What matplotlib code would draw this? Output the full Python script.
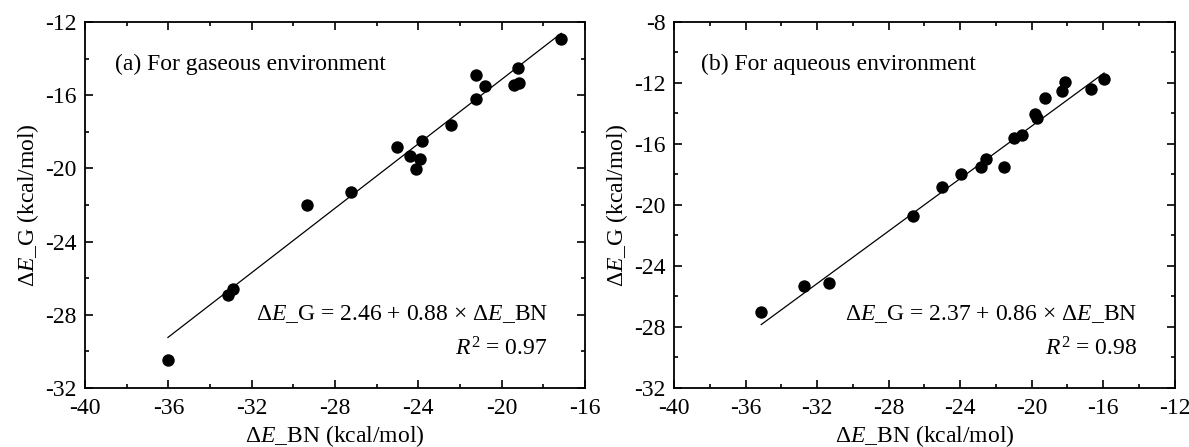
import matplotlib
matplotlib.use("Agg")
import matplotlib.pyplot as plt
import numpy as np
from matplotlib.ticker import MultipleLocator

plt.rcParams['font.family'] = ['Liberation Serif', 'DejaVu Serif']
plt.rcParams['mathtext.fontset'] = 'custom'
plt.rcParams['mathtext.rm'] = 'Liberation Serif'
plt.rcParams['mathtext.it'] = 'Liberation Serif:italic'
plt.rcParams['mathtext.bf'] = 'Liberation Serif:bold'
plt.rcParams['axes.unicode_minus'] = False

# Panel (a): gaseous environment
gas_bn = [-17.14, -21.23, -19.21, -20.81, -19.43, -19.19, -21.23, -22.42, -25.01,
          -23.82, -24.42, -23.91, -24.11, -27.21, -29.34, -32.90, -33.12, -36.02]
gas_g = [-12.91, -14.92, -14.50, -15.52, -15.43, -15.32, -16.23, -17.61, -18.81,
         -18.52, -19.30, -19.51, -20.02, -21.31, -22.00, -26.59, -26.92, -30.49]
gas_fit = (2.46, 0.88)
gas_r2 = "0.97"

# Panel (b): aqueous environment
aq_bn = [-15.95, -18.13, -18.28, -16.68, -19.24, -19.83, -19.73, -20.97, -20.55,
         -22.54, -22.84, -21.55, -23.95, -25.04, -26.64, -31.34, -32.71, -35.13]
aq_g = [-11.75, -11.95, -12.50, -12.39, -12.96, -14.03, -14.27, -15.59, -15.39,
        -16.99, -17.50, -17.50, -17.98, -18.81, -20.72, -25.13, -25.32, -27.04]
aq_fit = (2.37, 0.86)
aq_r2 = "0.98"

FS = 17

fig = plt.figure(figsize=(11.89, 4.47), dpi=100)
ax1 = fig.add_axes([0.0715, 0.132, 0.4205, 0.819])
ax2 = fig.add_axes([0.567, 0.132, 0.421, 0.819])

def draw(ax, xs, ys, fit, r2, title, tx, xlim, ylim):
    ax.scatter(xs, ys, s=80, color='black', zorder=3, linewidths=0)
    xl = np.array([min(xs), max(xs)])
    ax.plot(xl, fit[0] + fit[1] * xl, color='black', lw=0.9)
    ax.set_xlim(*xlim)
    ax.set_ylim(*ylim)
    ax.xaxis.set_major_locator(MultipleLocator(4))
    ax.xaxis.set_minor_locator(MultipleLocator(2))
    ax.yaxis.set_major_locator(MultipleLocator(4))
    ax.yaxis.set_minor_locator(MultipleLocator(2))
    ax.tick_params(which='both', direction='in', top=True, right=True, labelsize=FS, width=1.2)
    ax.tick_params(which='major', length=6)
    ax.tick_params(which='minor', length=3)
    ax.tick_params(axis='x', which='major', pad=7)
    ax.tick_params(axis='y', which='major', pad=6)
    for s in ax.spines.values():
        s.set_linewidth(1.3)
    ax.set_xlabel(r'$\Delta\mathit{E}$_BN (kcal/mol)', fontsize=FS, labelpad=3)
    ax.set_ylabel(r'$\Delta\mathit{E}$_G (kcal/mol)', fontsize=FS, labelpad=3)
    ax.text(tx, 0.885, title, transform=ax.transAxes,
            fontsize=FS, va='center', ha='left')
    ax.text(0.926, 0.203,
            r'$\Delta\mathit{E}$_G = %.2f + %.2f × $\Delta\mathit{E}$_BN' % fit,
            transform=ax.transAxes, fontsize=FS, va='center', ha='right')
    ax.text(0.926, 0.108, r'$\mathit{R}^{2}$ = ' + r2, transform=ax.transAxes,
            fontsize=FS, va='center', ha='right')

draw(ax1, gas_bn, gas_g, gas_fit, gas_r2, '(a) For gaseous environment', 0.06, (-40, -16), (-32, -12))
draw(ax2, aq_bn, aq_g, aq_fit, aq_r2, '(b) For aqueous environment', 0.054, (-40, -12), (-32, -8))

fig.savefig('out.png', dpi=100)
